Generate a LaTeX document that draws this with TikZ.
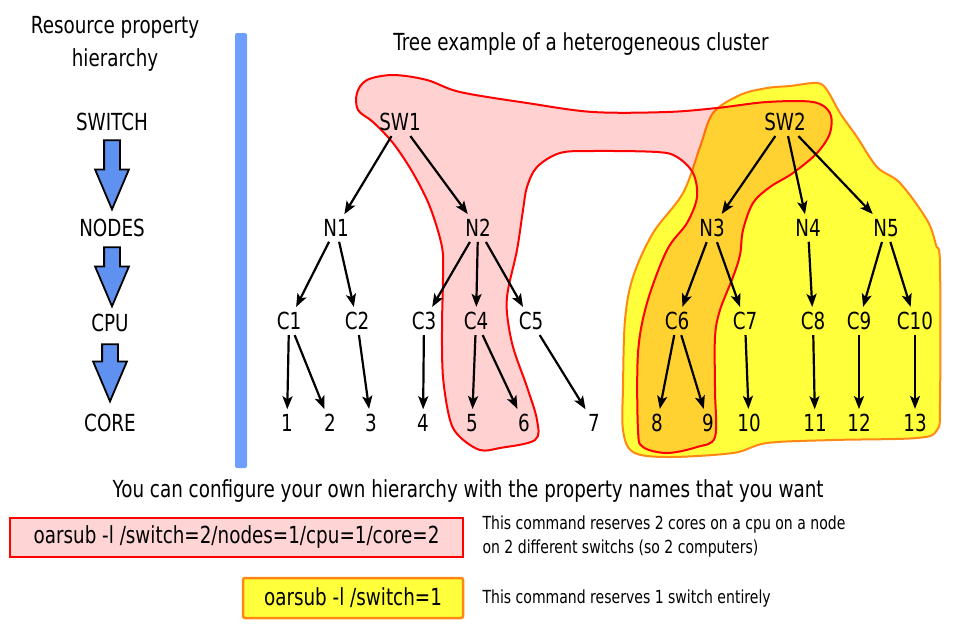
\documentclass[tikz,border=0pt]{standalone}
\usepackage{fontspec}
\setmainfont[FakeStretch=0.78]{DejaVu Sans}
\usetikzlibrary{arrows.meta,shapes.arrows}

\definecolor{barblue}{RGB}{110,158,255}
\definecolor{arrowblue}{RGB}{95,145,240}
\definecolor{blobyellow}{RGB}{255,255,60}
\definecolor{bloborange}{RGB}{255,136,20}
\definecolor{boxpink}{RGB}{255,212,212}

\begin{document}
\begin{tikzpicture}[x=1pt, y=-1pt,
                    treenode/.style={font=\fontsize{23.5}{26}\selectfont, inner sep=5pt},
                    treeedge/.style={line width=2.2pt, -{Stealth[length=13pt,width=10pt,inset=3pt]}},
                    hierlabel/.style={font=\fontsize{23.5}{33}\selectfont},
                    hierarrow/.style={single arrow, draw=black, line width=1.8pt, fill=arrowblue,
                                      rotate=-90, inner sep=7pt, single arrow head extend=9pt,
                                      single arrow tip angle=46, anchor=tail},
                    redblob/.style={draw=red, line width=2pt, fill=red, fill opacity=0.18},
                    yellowblob/.style={draw=bloborange, line width=2pt, fill=blobyellow},
                    cmdbox/.style={font=\fontsize{23.5}{28}\selectfont, line width=2.5pt, inner sep=0pt},
                    note/.style={font=\fontsize{18}{24}\selectfont, align=left, anchor=north west}]
  \useasboundingbox (0,0) rectangle (958,625);

  % left: hierarchy of properties
  \node[hierlabel, align=center] (head) at (115,44) {Resource property\\hierarchy};
  \node[hierlabel] (switch) at (112,122) {SWITCH};
  \node[hierlabel] (nodes) at (112,228) {NODES};
  \node[hierlabel] (cpu) at (110,323) {CPU};
  \node[hierlabel] (core) at (110,423) {CORE};
  \node[hierarrow, minimum height=69pt] (arr1) at ([yshift=-5pt]switch.south) {};
  \node[hierarrow, minimum height=59pt] (arr2) at ([yshift=-6pt]nodes.south) {};
  \node[hierarrow, minimum height=57pt] (arr3) at ([yshift=-8pt]cpu.south) {};

  % separator
  \fill[barblue, rounded corners=2pt] (235,33) rectangle (247,468);

  \node[hierlabel] (title) at (581,44) {Tree example of a heterogeneous cluster};

  % resource sets
  \draw[yellowblob] plot[smooth cycle, tension=0.55] coordinates {
    (713,113) (740,95) (767,88) (790,86) (817,83) (827,90) (840,113) (857,137)
    (877,167) (900,183) (927,220) (936,245) (940,265) (940,403) (937,430) (917,438)
    (833,440) (767,443) (733,453) (667,457) (633,452) (623,430) (623,387) (625,320)
    (633,277) (653,233) (683,193) (700,147)};
  \draw[redblob] plot[smooth cycle, tension=0.55] coordinates {
    (357,93) (367,80) (393,75) (427,80) (460,92) (527,103) (593,112) (667,112)
    (717,108) (767,102) (813,102) (830,113) (830,133) (817,153) (793,173) (770,187)
    (753,203) (743,230) (740,255) (733,277) (720,310) (715,337) (715,390) (715,437)
    (697,447) (667,453) (643,447) (638,430) (638,353) (647,303) (667,250) (687,223)
    (697,197) (693,173) (677,157) (657,152) (593,151) (560,153) (537,167) (527,187)
    (523,210) (517,250) (508,290) (507,313) (513,347) (527,387) (537,420) (535,440)
    (500,448) (480,450) (460,437) (450,420) (443,377) (442,327) (443,277) (442,247)
    (430,207) (413,173) (393,143) (373,122) (358,110)};

  % tree
  \foreach \name/\txt/\x/\y in {sw1/SW1/400/122, sw2/SW2/785/122,
      n1/N1/336/228, n2/N2/478/228, n3/N3/712/228, n4/N4/808/228, n5/N5/886/228,
      c1/C1/289/321, c2/C2/357/321, c3/C3/424/321, c4/C4/476/321, c5/C5/531/321,
      c6/C6/677/321, c7/C7/745/321, c8/C8/813/321, c9/C9/859/321, c10/C10/915/321,
      l1/1/287/423, l2/2/330/423, l3/3/371/423, l4/4/423/423, l5/5/472/423,
      l6/6/524/423, l7/7/594/423, l8/8/657/423, l9/9/708/423, l10/10/749/423,
      l11/11/815/423, l12/12/859/423, l13/13/915/423}
    \node[treenode] (\name) at (\x,\y) {\txt};
  \foreach \a/\b in {sw1/n1, sw1/n2, sw2/n3, sw2/n4, sw2/n5,
      n1/c1, n1/c2, n2/c3, n2/c4, n2/c5, n3/c6, n3/c7, n4/c8, n5/c9, n5/c10,
      c1/l1, c1/l2, c2/l3, c3/l4, c4/l5, c4/l6, c5/l7, c6/l8, c6/l9,
      c7/l10, c8/l11, c9/l12, c10/l13}
    \draw[treeedge] (\a) -- (\b);

  % commands
  \node[hierlabel, font=\fontsize{23.5}{28}\selectfont] (config) at (468,491)
    {You can configure your own hierarchy with the property names that you want};
  \node[cmdbox, draw=red, fill=boxpink, minimum width=453pt, minimum height=39pt]
    (cmdred) at (236.5,537.5) {oarsub -l /switch=2/nodes=1/cpu=1/core=2};
  \node[cmdbox, draw=bloborange, fill=blobyellow, rounded corners=2pt,
        minimum width=220pt, minimum height=40pt]
    (cmdyellow) at (353,598) {oarsub -l /switch=1};
  \node[note] (notered) at (479,512)
    {This command reserves 2 cores on a cpu on a node\\on 2 different switchs (so 2 computers)};
  \node[note, anchor=west] (noteyellow) at (479,599) {This command reserves 1 switch entirely};
\end{tikzpicture}
\end{document}
